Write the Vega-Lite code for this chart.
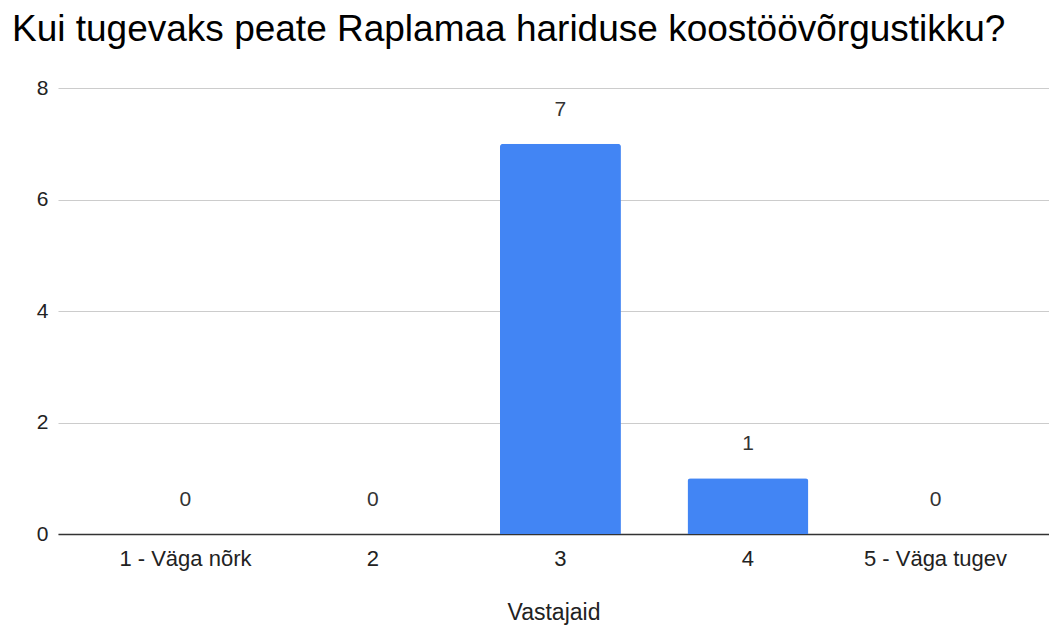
{
  "$schema": "https://vega.github.io/schema/vega-lite/v6.json",
  "autosize": {"type": "none"},
  "width": 991,
  "height": 446,
  "padding": {"left": 58, "top": 88, "right": 0, "bottom": 95},
  "background": "#ffffff",
  "title": {
    "text": "Kui tugevaks peate Raplamaa hariduse koostöövõrgustikku?",
    "anchor": "start",
    "frame": "group",
    "font": "Liberation Sans",
    "fontSize": 37,
    "fontWeight": "normal",
    "color": "#000000",
    "baseline": "alphabetic",
    "dx": -46,
    "dy": 10,
    "offset": 9
  },
  "data": {
    "values": [
      {"hinnang": "1 - Väga nõrk", "vastajaid": 0},
      {"hinnang": "2", "vastajaid": 0},
      {"hinnang": "3", "vastajaid": 7},
      {"hinnang": "4", "vastajaid": 1},
      {"hinnang": "5 - Väga tugev", "vastajaid": 0}
    ]
  },
  "encoding": {
    "x": {
      "field": "hinnang",
      "type": "nominal",
      "sort": null,
      "scale": {"paddingInner": 0.355, "paddingOuter": 0.32, "align": 0.558},
      "axis": {
        "title": "Vastajaid",
        "labelAngle": 0,
        "ticks": false,
        "labelPadding": 14,
        "labelFont": "Liberation Sans",
        "labelFontSize": 22,
        "labelColor": "#222222",
        "titleFont": "Liberation Sans",
        "titleFontSize": 23,
        "titleFontWeight": "normal",
        "titleColor": "#222222",
        "titlePadding": 32,
        "domainColor": "#333333",
        "domainWidth": 1.5,
        "grid": false
      }
    },
    "y": {
      "field": "vastajaid",
      "type": "quantitative",
      "scale": {"domain": [0, 8], "nice": false},
      "axis": {
        "title": null,
        "values": [0, 2, 4, 6, 8],
        "ticks": false,
        "domain": false,
        "labelPadding": 10,
        "labelFont": "Liberation Sans",
        "labelFontSize": 21,
        "labelColor": "#222222",
        "gridColor": "#cccccc",
        "gridWidth": 1.2
      }
    }
  },
  "layer": [
    {
      "mark": {"type": "bar", "color": "#4285f4", "cornerRadiusTopLeft": 3, "cornerRadiusTopRight": 3}
    },
    {
      "mark": {"type": "text", "baseline": "alphabetic", "dy": -28, "font": "Liberation Sans", "fontSize": 21, "color": "#333333"},
      "encoding": {"text": {"field": "vastajaid", "type": "quantitative"}}
    }
  ],
  "config": {"view": {"stroke": null}}
}
